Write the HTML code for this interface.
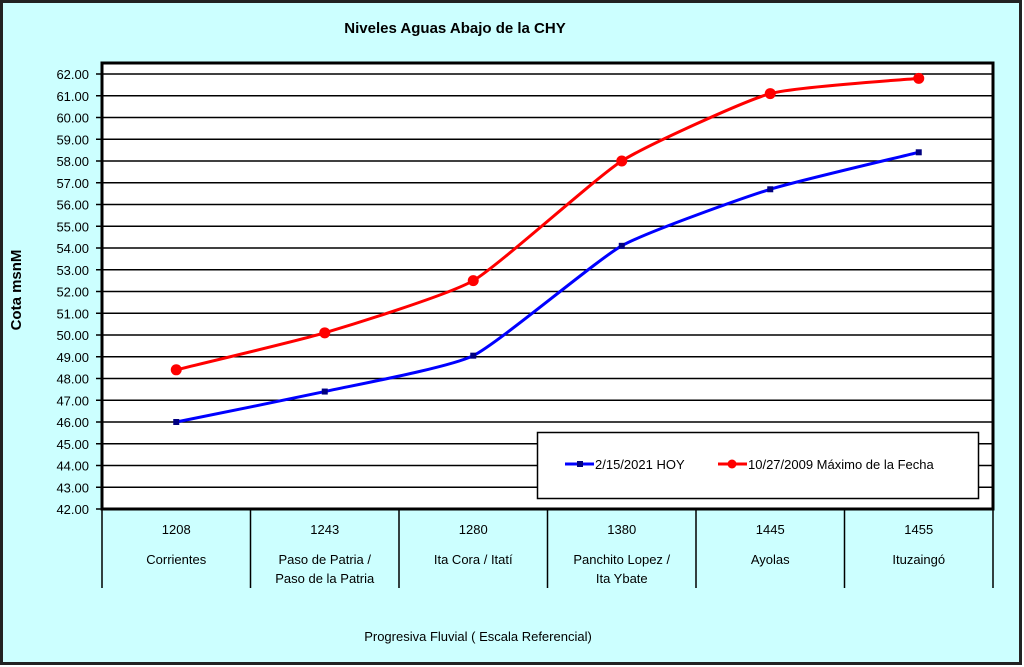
<!DOCTYPE html>
<html><head><meta charset="utf-8"><style>
body{margin:0;background:#fff;}
svg{display:block;font-family:"Liberation Sans",sans-serif;}
</style></head><body>
<svg id="s" width="1024" height="667" xmlns="http://www.w3.org/2000/svg">
<rect x="1.5" y="1.5" width="1019" height="662" fill="#ccffff" stroke="#222" stroke-width="3"/>
<text x="455" y="33" text-anchor="middle" font-size="15" font-weight="bold">Niveles Aguas Abajo de la CHY</text>
<rect x="102" y="63" width="891" height="446" fill="#fff"/>
<g id="grid"></g>
<rect x="102" y="63" width="891" height="446" fill="none" stroke="#000" stroke-width="3"/>
<text transform="translate(21,290) rotate(-90)" text-anchor="middle" font-size="15" font-weight="bold">Cota msnM</text>
<g id="cats" font-size="13" text-anchor="middle"></g>
<text x="478" y="641" text-anchor="middle" font-size="13">Progresiva Fluvial ( Escala Referencial)</text>
<path id="pb" fill="none" stroke="#0000ff" stroke-width="3"/>
<path id="pr" fill="none" stroke="#ff0000" stroke-width="3"/>
<g id="mk"></g>
<rect x="537.5" y="432.5" width="441" height="66" fill="#fff" stroke="#000" stroke-width="1.5"/>
<line x1="565" y1="464" x2="594" y2="464" stroke="#0000ff" stroke-width="3"/>
<rect x="577" y="461" width="6" height="6" fill="#000080"/>
<text x="595" y="469" font-size="13">2/15/2021 HOY</text>
<line x1="718" y1="464" x2="747" y2="464" stroke="#ff0000" stroke-width="3"/>
<circle cx="732" cy="464" r="4.5" fill="#ff0000"/>
<text x="748" y="469" font-size="13">10/27/2009 Máximo de la Fecha</text>
</svg>
<script>
const NS="http://www.w3.org/2000/svg";
function el(t,a,p,txt){const e=document.createElementNS(NS,t);for(const k in a)e.setAttribute(k,a[k]);if(txt!==undefined)e.textContent=txt;document.getElementById(p).appendChild(e);return e;}
const Y=v=>509-(v-42)*21.75;
for(let v=42;v<=62;v++){const y=Y(v);
 if(v>42)el('line',{x1:102,y1:y,x2:993,y2:y,stroke:'#000','stroke-width':1.5},'grid');
 el('line',{x1:96,y1:y,x2:102,y2:y,stroke:'#000','stroke-width':1.5},'grid');
 el('text',{x:89,y:y+5,'text-anchor':'end','font-size':13},'grid',v.toFixed(2));}
const W=148.5;
for(let i=0;i<=6;i++){const x=102+i*W;el('line',{x1:x,y1:509,x2:x,y2:588,stroke:'#000','stroke-width':1.5},'cats');}
const cats=[["1208","Corrientes"],["1243","Paso de Patria /","Paso de la Patria"],["1280","Ita Cora / Itatí"],["1380","Panchito Lopez /","Ita Ybate"],["1445","Ayolas"],["1455","Ituzaingó"]];
cats.forEach((c,i)=>{const x=102+W*(i+0.5);el('text',{x:x,y:534},'cats',c[0]);el('text',{x:x,y:564},'cats',c[1]);if(c[2])el('text',{x:x,y:583},'cats',c[2]);});
const blue=[46.0,47.4,49.05,54.1,56.7,58.4],red=[48.4,50.1,52.5,58.0,61.1,61.8];
function path(d){const p=d.map((v,i)=>[102+W*(i+0.5),Y(v)]);let s=`M${p[0][0]},${p[0][1]}`;
 for(let i=0;i<p.length-1;i++){const p0=p[Math.max(i-1,0)],p1=p[i],p2=p[i+1],p3=p[Math.min(i+2,p.length-1)];
 const t=12;s+=` C${p1[0]+(p2[0]-p0[0])/t},${p1[1]+(p2[1]-p0[1])/t} ${p2[0]-(p3[0]-p1[0])/t},${p2[1]-(p3[1]-p1[1])/t} ${p2[0]},${p2[1]}`;}
 return s;}
document.getElementById('pb').setAttribute('d',path(blue));
document.getElementById('pr').setAttribute('d',path(red));
blue.forEach((v,i)=>el('rect',{x:102+W*(i+0.5)-3,y:Y(v)-3,width:6,height:6,fill:'#000080'},'mk'));
red.forEach((v,i)=>el('circle',{cx:102+W*(i+0.5),cy:Y(v),r:5.5,fill:'#ff0000'},'mk'));
</script>
</body></html>
